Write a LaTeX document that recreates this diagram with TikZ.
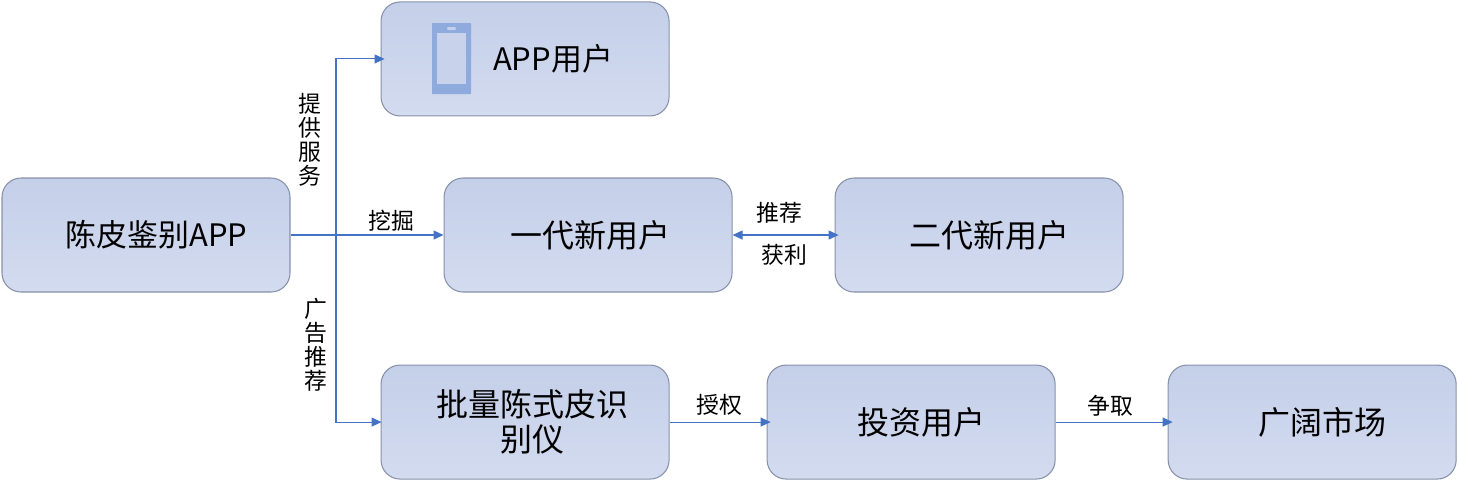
\documentclass[tikz,border=0pt]{standalone}
\usepackage{fontspec}
\setmainfont{Noto Sans CJK SC}
\usetikzlibrary{positioning, arrows.meta}
\definecolor{boxtop}{HTML}{C4CFE9}
\definecolor{boxbottom}{HTML}{D3DBEF}
\definecolor{boxedge}{HTML}{8791A8}
\definecolor{linkblue}{HTML}{4472C4}
\definecolor{phoneblue}{HTML}{8FAADC}
\tikzset{
  bigbox/.style={rectangle, rounded corners=0.19cm, draw=boxedge, line width=0.3pt,
    top color=boxtop, bottom color=boxbottom, minimum width=2.88cm, minimum height=1.14cm,
    inner sep=0pt, align=center, font=\fontsize{9.1}{9.9}\selectfont},
  latinbox/.style={bigbox, font=\fontsize{8.8}{9.9}\selectfont},
  link/.style={draw=linkblue, line width=0.3pt, -{Triangle[length=0.1cm, width=0.09cm]}},
  linklabel/.style={inner sep=0pt, align=center, font=\fontsize{6.5}{6.8}\selectfont}
}
\begin{document}
\begin{tikzpicture}
  \useasboundingbox (0,0) rectangle (14.58,-4.81);
  % boxes
  \node [latinbox] (root) at (1.46,-2.35) {\hspace*{0.21cm}陈皮鉴别APP};
  \node [bigbox, right=1.53cm of root] (gen1) {\hspace*{0.04cm}一代新用户};
  \node [bigbox, right=1.02cm of gen1] (gen2) {\hspace*{0.2cm}二代新用户};
  \node [latinbox, above=0.61cm of gen1, xshift=-0.63cm] (appuser) {\hspace*{0.56cm}APP用户};
  \node [bigbox, below=0.72cm of gen1, xshift=-0.63cm] (scanner) {\hspace*{0.15cm}批量陈式皮识\\\hspace*{0.15cm}别仪};
  \node [bigbox, right=0.97cm of scanner] (investor) {\hspace*{0.2cm}投资用户};
  \node [bigbox, right=1.12cm of investor] (market) {\hspace*{0.2cm}广阔市场};
  % phone icon
  \fill [phoneblue, rounded corners=0.2pt] (4.32,-0.23) rectangle (4.71,-0.94);
  \fill [boxtop!70!boxbottom] (4.37,-0.33) rectangle (4.66,-0.84);
  \fill [boxtop, rounded corners=0.3pt] (4.47,-0.27) rectangle (4.56,-0.30);
  % connectors
  \coordinate (trunk) at (3.36,-2.35);
  \draw [linkblue, line width=0.5pt] (root.east) -- (trunk);
  \draw [link, shorten >=-0.04cm] (trunk) |- (appuser.west);
  \draw [link] (trunk) -- (gen1.west);
  \draw [link, shorten >=-0.01cm] (trunk) |- (scanner.west);
  \draw [draw=linkblue, line width=0.3pt, {Triangle[length=0.1cm, width=0.09cm]}-{Triangle[length=0.1cm, width=0.09cm]}, shorten >=-0.04cm] (gen1.east) -- (gen2.west);
  \draw [link, shorten >=-0.04cm] (scanner.east) -- (investor.west);
  \draw [link, shorten >=-0.05cm] (investor.east) -- (market.west);
  % labels
  \node [linklabel] (provide) at (3.10,-1.40) {提\\供\\服\\务};
  \node [linklabel] (mine) at (3.91,-2.21) {挖掘};
  \node [linklabel] (promo) at (3.16,-3.45) {广\\告\\推\\荐};
  \node [linklabel] (refer) at (7.79,-2.13) {推荐};
  \node [linklabel] (profit) at (7.84,-2.55) {获利};
  \node [linklabel] (license) at (7.19,-4.05) {授权};
  \node [linklabel] (win) at (11.10,-4.06) {争取};
\end{tikzpicture}
\end{document}
